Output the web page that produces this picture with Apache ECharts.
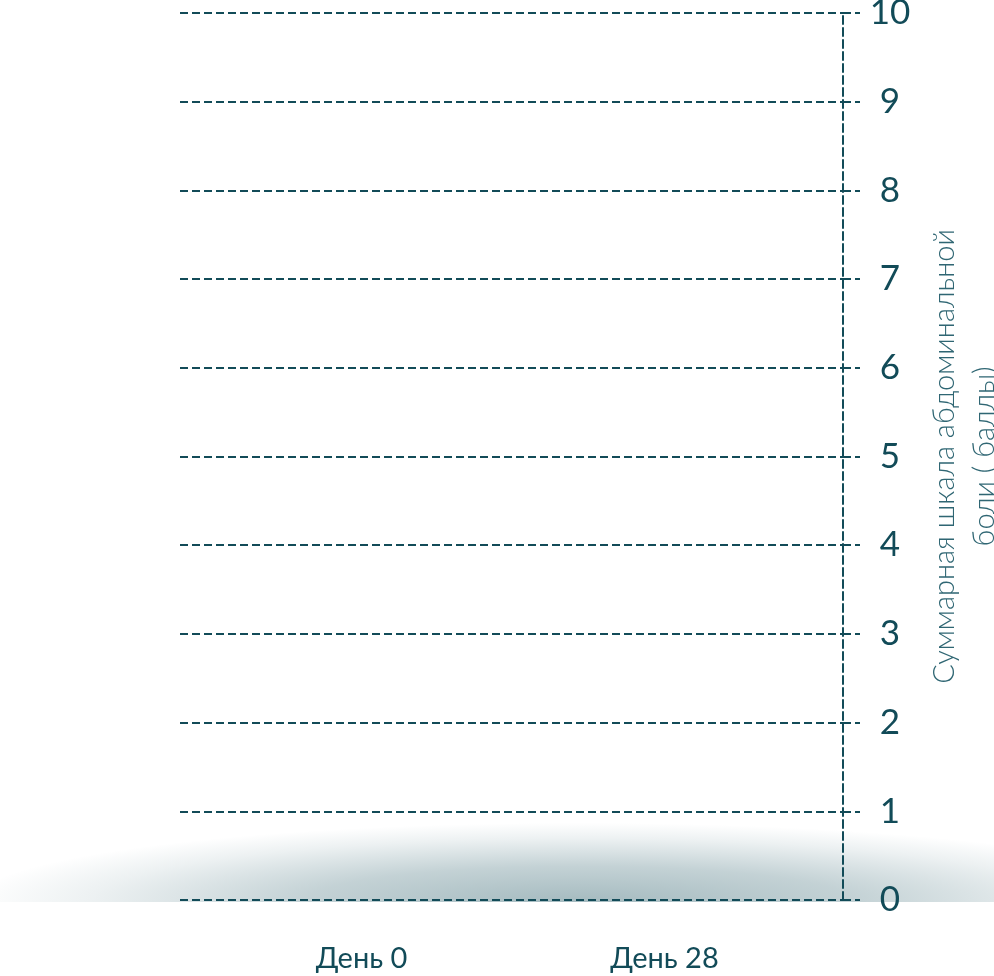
<!DOCTYPE html>
<html>
<head>
<meta charset="utf-8">
<script src="https://cdn.jsdelivr.net/npm/echarts@6/dist/echarts.min.js"></script>
<style>
  html, body { margin: 0; padding: 0; background: #ffffff; }
  #chart { width: 994px; height: 976px; }
</style>
</head>
<body>
<div id="chart"></div>
<script>
// ---- data ----
const categories = ['День 0', 'День 28'];
const scoreValues = [0, 0];           // no bars are visible in the reference
const yTickLabels = ['0', '1', '2', '3', '4', '5', '6', '7', '8', '9', '10'];
const yMin = 0;
const yMax = 10;
const yInterval = 1;
const yAxisName = 'Суммарная шкала абдоминальной\nболи ( баллы)';

// ---- styling ----
const teal = '#124b58';
const font = 'Lato';

const chart = echarts.init(document.getElementById('chart'), null, { renderer: 'canvas' });

const option = {
  backgroundColor: '#ffffff',
  animation: false,
  graphic: [{
    type: 'sector',
    z: -10,
    silent: true,
    x: 580,
    y: 902,
    scaleX: 1,
    scaleY: 0.13,
    shape: { cx: 0, cy: 0, r: 610, r0: 0, startAngle: Math.PI, endAngle: Math.PI * 2, clockwise: true },
    style: {
      fill: {
        type: 'radial', x: 0.5, y: 1, r: 1,
        colorStops: [
          { offset: 0, color: 'rgba(18,75,88,0.38)' },
          { offset: 0.45, color: 'rgba(18,75,88,0.25)' },
          { offset: 0.8, color: 'rgba(18,75,88,0.08)' },
          { offset: 1, color: 'rgba(18,75,88,0)' }
        ]
      }
    }
  }],
  grid: [
    { left: 180, right: 151, top: 13, bottom: 76, containLabel: false, outerBoundsMode: 'none' },
    { left: 210, right: 178, top: 13, bottom: 76, containLabel: false, outerBoundsMode: 'none' }
  ],
  xAxis: [
    { gridIndex: 0, type: 'category', data: categories, show: false },
    {
      gridIndex: 1, type: 'category', data: categories,
      axisLine: { show: false }, axisTick: { show: false }, splitLine: { show: false },
      axisLabel: { color: teal, fontFamily: font, fontSize: 29, margin: 44 }
    }
  ],
  yAxis: [
    {
      gridIndex: 0, type: 'value', position: 'right',
      min: yMin, max: yMax, interval: yInterval,
      axisLine: { show: true, lineStyle: { color: teal, width: 2, type: [8, 4] } },
      axisTick: { show: true, length: 17, lineStyle: { color: teal, width: 2, type: [8, 4] } },
      splitLine: { show: true, lineStyle: { color: teal, width: 2, type: [8, 4] } },
      axisLabel: {
        color: teal, fontFamily: font, fontSize: 35, margin: 47, align: 'center',
        formatter: (v) => yTickLabels[Math.round((v - yMin) / yInterval)]
      },
      name: yAxisName,
      nameLocation: 'middle',
      nameRotate: 90,
      nameGap: 82,
      nameTextStyle: { color: '#2f6673', fontFamily: font, fontWeight: 300, fontSize: 29, lineHeight: 40, align: 'center' }
    },
    { gridIndex: 1, type: 'value', min: yMin, max: yMax, interval: yInterval, show: false }
  ],
  series: [{
    type: 'bar',
    xAxisIndex: 1,
    yAxisIndex: 1,
    data: scoreValues,
    barWidth: '45%',
    itemStyle: { color: teal }
  }]
};

chart.setOption(option);
</script>
</body>
</html>
